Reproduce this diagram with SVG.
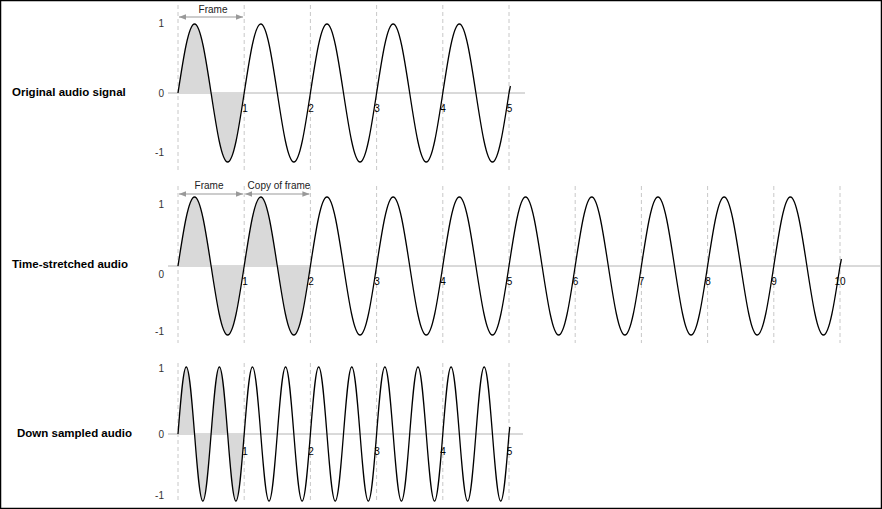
<svg xmlns="http://www.w3.org/2000/svg" xmlns:xlink="http://www.w3.org/1999/xlink" width="882" height="509" viewBox="0 0 882 509">
<style>
.lbl{font-family:"Liberation Sans",Arial,sans-serif;font-weight:bold;font-size:11.5px;fill:#000}
.ax{font-family:"Liberation Sans",Arial,sans-serif;font-size:10px;fill:#333;text-anchor:end}
.tk{font-family:"Liberation Sans",Arial,sans-serif;font-size:10px;fill:#000;text-anchor:middle}
.ann{font-family:"Liberation Sans",Arial,sans-serif;font-size:10px;fill:#222;text-anchor:middle}
.grid{stroke:#c8c8c8;stroke-width:1;stroke-dasharray:4,3;fill:none}
.zero{stroke:#b4b4b4;stroke-width:1;fill:none}
.curve{fill:none;stroke:#000;stroke-width:1.3}
.shade{fill:#d9d9d9;stroke:none}
.arr{stroke:#999;stroke-width:1.2;fill:none;marker-start:url(#ah);marker-end:url(#ah)}
</style>
<defs>
<marker id="ah" viewBox="0 0 10 10" refX="10" refY="5" markerWidth="7" markerHeight="7" markerUnits="userSpaceOnUse" orient="auto-start-reverse">
<path d="M0,1 L10,5 L0,9 Z" fill="#999"/>
</marker>
<path id="w1" d="M0,0 c5.397,-35.35 10.561,-69 16.55,-69 s11.153,33.65 16.55,69 s10.561,69 16.55,69 s11.153,-33.65 16.55,-69"/>
<path id="w2" d="M0,0 c2.698,-34.32 5.28,-67 8.275,-67 s5.577,32.68 8.275,67 s5.28,67 8.275,67 s5.577,-32.68 8.275,-67"/>
</defs>
<rect x="0.5" y="0.5" width="881" height="508" fill="#fff" stroke="#000" stroke-width="1.5"/>

<g id="original">
<text class="lbl" x="12" y="96">Original audio signal</text>
<g class="grid">
<line x1="178" y1="5" x2="178" y2="172"/><line x1="244.2" y1="5" x2="244.2" y2="172"/><line x1="310.4" y1="5" x2="310.4" y2="172"/><line x1="376.6" y1="5" x2="376.6" y2="172"/><line x1="442.8" y1="5" x2="442.8" y2="172"/><line x1="509" y1="5" x2="509" y2="172"/>
</g>
<line class="zero" x1="168" y1="93" x2="525" y2="93"/>
<use href="#w1" xlink:href="#w1" class="shade" x="178" y="93"/>
<g class="curve">
<use href="#w1" xlink:href="#w1" x="178" y="93"/><use href="#w1" xlink:href="#w1" x="244.2" y="93"/><use href="#w1" xlink:href="#w1" x="310.4" y="93"/><use href="#w1" xlink:href="#w1" x="376.6" y="93"/><use href="#w1" xlink:href="#w1" x="442.8" y="93"/>
<path d="M509,93 l1.4,-7"/>
</g>
<text class="ax" x="164" y="26.5">1</text><text class="ax" x="164" y="96.5">0</text><text class="ax" x="164" y="155.5">-1</text>
<text class="tk" x="245" y="112">1</text><text class="tk" x="311" y="112">2</text><text class="tk" x="377" y="112">3</text><text class="tk" x="443" y="112">4</text><text class="tk" x="509.5" y="112">5</text>
<line class="arr" x1="179" y1="17" x2="243" y2="17"/>
<text class="ann" x="213" y="13">Frame</text>
</g>

<g id="stretched">
<text class="lbl" x="12" y="268">Time-stretched audio</text>
<g class="grid">
<line x1="178" y1="186" x2="178" y2="343"/><line x1="244.2" y1="186" x2="244.2" y2="343"/><line x1="310.4" y1="186" x2="310.4" y2="343"/><line x1="376.6" y1="186" x2="376.6" y2="343"/><line x1="442.8" y1="186" x2="442.8" y2="343"/><line x1="509" y1="186" x2="509" y2="343"/><line x1="575.2" y1="186" x2="575.2" y2="343"/><line x1="641.4" y1="186" x2="641.4" y2="343"/><line x1="707.6" y1="186" x2="707.6" y2="343"/><line x1="773.8" y1="186" x2="773.8" y2="343"/><line x1="840" y1="186" x2="840" y2="343"/>
</g>
<line class="zero" x1="168" y1="266" x2="880" y2="266"/>
<use href="#w1" xlink:href="#w1" class="shade" x="178" y="266"/>
<use href="#w1" xlink:href="#w1" class="shade" x="244.2" y="266"/>
<g class="curve">
<use href="#w1" xlink:href="#w1" x="178" y="266"/><use href="#w1" xlink:href="#w1" x="244.2" y="266"/><use href="#w1" xlink:href="#w1" x="310.4" y="266"/><use href="#w1" xlink:href="#w1" x="376.6" y="266"/><use href="#w1" xlink:href="#w1" x="442.8" y="266"/><use href="#w1" xlink:href="#w1" x="509" y="266"/><use href="#w1" xlink:href="#w1" x="575.2" y="266"/><use href="#w1" xlink:href="#w1" x="641.4" y="266"/><use href="#w1" xlink:href="#w1" x="707.6" y="266"/><use href="#w1" xlink:href="#w1" x="773.8" y="266"/>
<path d="M840,266 l1.4,-7"/>
</g>
<text class="ax" x="164" y="207.5">1</text><text class="ax" x="164" y="277.5">0</text><text class="ax" x="164" y="335">-1</text>
<text class="tk" x="245" y="285">1</text><text class="tk" x="311" y="285">2</text><text class="tk" x="377" y="285">3</text><text class="tk" x="443" y="285">4</text><text class="tk" x="509.5" y="285">5</text><text class="tk" x="575.5" y="285">6</text><text class="tk" x="641.5" y="285">7</text><text class="tk" x="708" y="285">8</text><text class="tk" x="774" y="285">9</text><text class="tk" x="840" y="285">10</text>
<line class="arr" x1="179" y1="194" x2="243" y2="194"/>
<line class="arr" x1="245.2" y1="194" x2="309.4" y2="194"/>
<text class="ann" x="209" y="189">Frame</text>
<text class="ann" x="279" y="189">Copy of frame</text>
</g>

<g id="downsampled">
<text class="lbl" x="17" y="437">Down sampled audio</text>
<g class="grid">
<line x1="178" y1="363" x2="178" y2="503"/><line x1="244.2" y1="363" x2="244.2" y2="503"/><line x1="310.4" y1="363" x2="310.4" y2="503"/><line x1="376.6" y1="363" x2="376.6" y2="503"/><line x1="442.8" y1="363" x2="442.8" y2="503"/><line x1="509" y1="363" x2="509" y2="503"/>
</g>
<line class="zero" x1="168" y1="434" x2="523" y2="434"/>
<use href="#w2" xlink:href="#w2" class="shade" x="178" y="434"/>
<use href="#w2" xlink:href="#w2" class="shade" x="211.1" y="434"/>
<g class="curve">
<use href="#w2" xlink:href="#w2" x="178" y="434"/><use href="#w2" xlink:href="#w2" x="211.1" y="434"/><use href="#w2" xlink:href="#w2" x="244.2" y="434"/><use href="#w2" xlink:href="#w2" x="277.3" y="434"/><use href="#w2" xlink:href="#w2" x="310.4" y="434"/><use href="#w2" xlink:href="#w2" x="343.5" y="434"/><use href="#w2" xlink:href="#w2" x="376.6" y="434"/><use href="#w2" xlink:href="#w2" x="409.7" y="434"/><use href="#w2" xlink:href="#w2" x="442.8" y="434"/><use href="#w2" xlink:href="#w2" x="475.9" y="434"/>
<path d="M509,434 l0.8,-7"/>
</g>
<text class="ax" x="164" y="371.5">1</text><text class="ax" x="164" y="437.5">0</text><text class="ax" x="164" y="499">-1</text>
<text class="tk" x="245" y="455">1</text><text class="tk" x="311" y="455">2</text><text class="tk" x="377" y="455">3</text><text class="tk" x="443" y="455">4</text><text class="tk" x="509.5" y="455">5</text>
</g>
</svg>
